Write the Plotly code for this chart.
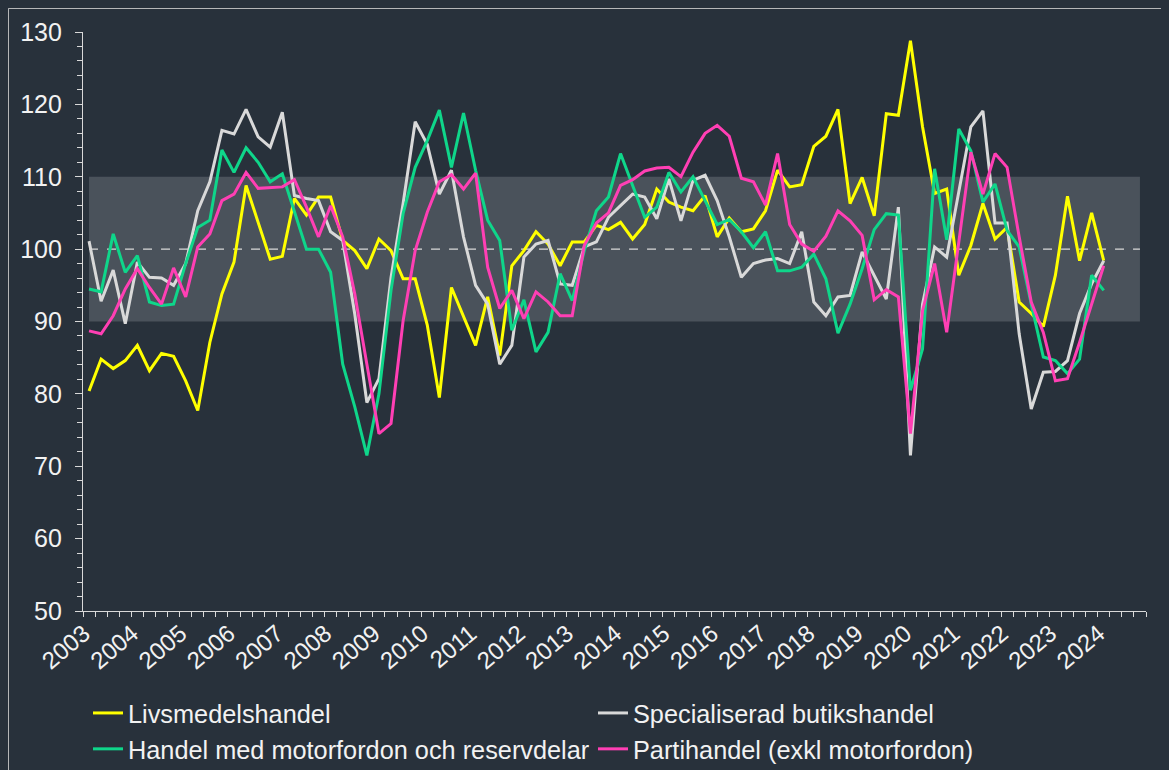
import plotly.graph_objects as go

# quarterly index values, 2003 Q1 - 2024 Q1
years = [str(y) for y in range(2003, 2025)]

livsmedel = [80.4, 84.8, 83.5, 84.6, 86.7, 83.2, 85.6, 85.2, 81.8, 77.7, 87.1, 93.8,
             98.2, 108.8, 103.7, 98.6, 99.0, 107.0, 104.7, 107.2, 107.2, 101.2, 99.8, 97.3,
             101.4, 99.8, 95.9, 95.9, 89.5, 79.5, 94.7, 90.8, 86.7, 93.4, 85.3, 97.7,
             99.8, 102.4, 100.7, 97.7, 101.0, 101.0, 103.3, 102.7, 103.7, 101.4, 103.4, 108.3,
             106.5, 105.8, 105.3, 107.4, 101.7, 104.3, 102.4, 102.8, 105.3, 110.9, 108.6, 108.9,
             114.2, 115.6, 119.3, 106.3, 109.9, 104.6, 118.7, 118.5, 128.8, 116.9, 107.7, 108.3,
             96.4, 100.5, 106.3, 101.4, 103.0, 92.7, 91.1, 89.3, 96.4, 107.3, 98.4, 105.0, 98.4]

special = [101.1, 92.8, 97.1, 89.7, 98.2, 96.1, 96.0, 95.0, 98.0, 105.3, 109.3, 116.4,
           115.9, 119.3, 115.5, 114.1, 118.9, 107.4, 107.0, 106.7, 102.4, 101.2, 91.0, 78.8,
           82.1, 96.1, 106.3, 117.6, 114.5, 107.6, 110.9, 101.7, 95.0, 92.4, 84.1, 86.7,
           98.9, 100.7, 101.2, 95.2, 95.0, 100.3, 101.0, 104.4, 106.0, 107.6, 107.2, 104.2,
           109.7, 103.9, 109.5, 110.2, 106.7, 101.7, 96.1, 98.0, 98.5, 98.7, 98.0, 102.4,
           92.7, 90.8, 93.4, 93.6, 99.6, 96.4, 93.1, 105.8, 71.5, 92.4, 100.3, 98.9,
           108.1, 116.9, 119.1, 103.6, 103.6, 88.3, 77.9, 83.0, 83.1, 84.6, 91.1, 95.2, 98.4]

motor = [94.5, 94.1, 102.1, 96.8, 99.1, 92.7, 92.2, 92.4, 98.0, 103.0, 104.0, 113.7,
         110.6, 114.0, 112.0, 109.3, 110.4, 105.1, 100.0, 100.0, 96.8, 84.1, 78.2, 71.5,
         80.0, 94.3, 104.9, 111.3, 115.0, 119.2, 111.3, 118.8, 110.9, 104.0, 101.2, 88.8,
         93.0, 85.8, 88.5, 96.6, 92.9, 99.8, 105.3, 107.2, 113.2, 108.8, 104.4, 105.8,
         110.6, 107.9, 110.0, 106.7, 103.4, 104.1, 102.4, 100.2, 102.4, 97.0, 97.0, 97.5,
         99.3, 95.9, 88.4, 92.4, 97.3, 102.7, 104.9, 104.7, 80.5, 86.2, 111.1, 101.3,
         116.6, 113.6, 106.5, 109.0, 102.6, 100.3, 92.4, 85.1, 84.6, 82.8, 84.8, 96.4, 94.3]

parti = [88.7, 88.3, 90.8, 94.5, 97.3, 94.7, 92.4, 97.4, 93.4, 100.3, 102.1, 106.7,
         107.6, 110.6, 108.4, 108.5, 108.6, 109.6, 105.8, 101.7, 106.0, 101.7, 93.8, 84.1,
         74.5, 75.9, 90.1, 99.8, 105.1, 109.3, 110.3, 108.3, 110.5, 97.5, 91.8, 94.3,
         90.4, 94.1, 92.7, 90.8, 90.8, 100.5, 103.6, 105.0, 108.8, 109.6, 110.8, 111.2,
         111.3, 110.0, 113.4, 116.0, 117.1, 115.6, 109.8, 109.3, 106.1, 113.2, 103.4, 100.7,
         99.7, 101.8, 105.3, 103.9, 101.9, 93.0, 94.4, 93.4, 74.5, 91.5, 98.0, 88.5,
         101.3, 113.4, 107.6, 113.2, 111.3, 101.7, 92.7, 88.5, 81.8, 82.1, 87.1, 92.4, 97.7]

names = ["Livsmedelshandel", "Specialiserad butikshandel",
         "Handel med motorfordon och reservdelar", "Partihandel (exkl motorfordon)"]
colors = ["#ffff00", "#d9d9d9", "#0fd68a", "#ff3fb4"]

bg = "#28313b"
W, H = 1169, 770
ml, mr, mt, mb = 75, 31, 24, 167
pw, ph = W - ml - mr, H - mt - mb

fig = go.Figure()

quarters = list(range(len(livsmedel)))
for series, name, col in zip([livsmedel, special, motor, parti], names, colors):
    fig.add_trace(go.Scatter(x=quarters, y=series, name=name, mode="lines",
                             line=dict(color=col, width=3)))

# normal range band and 100 line
fig.add_shape(type="rect", x0=0, x1=87, y0=90, y1=110, fillcolor="#4a525b",
              line_width=0, layer="below")
fig.add_shape(type="line", x0=0, x1=87, y0=100, y1=100,
              line=dict(color="#d9d9d9", width=1.3, dash="dash"), layer="below")

# thin frame round the chart area
fig.add_shape(type="rect", xref="paper", yref="paper",
              x0=-ml / pw + 0.4 / pw, x1=1 + (mr - 0.4) / pw,
              y0=-mb / ph + 0.4 / ph, y1=1 + (mt - 0.4) / ph,
              line=dict(color="#c8c8c8", width=1), layer="below")

fig.update_layout(
    width=W, height=H,
    paper_bgcolor=bg, plot_bgcolor=bg,
    margin=dict(l=ml, r=mr, t=mt, b=mb),
    font=dict(family="Liberation Sans, Arial", size=25, color="#f2f2f2"),
    showlegend=True,
    legend=dict(orientation="h", xref="container", yref="container",
                x=80 / W, xanchor="left", y=1 - 682 / H, yanchor="top",
                entrywidth=460, entrywidthmode="pixels", font=dict(size=25.3),
                bgcolor="rgba(0,0,0,0)", tracegroupgap=0),
)
fig.update_xaxes(
    range=[-0.5, 87.5], tickmode="array", automargin=False,
    tickvals=[4 * k for k in range(len(years))], ticktext=years,
    tickangle=-40, ticks="", showgrid=False, zeroline=False,
    showline=True, linecolor="#d9d9d9", linewidth=1.3,
    tickfont=dict(size=24), ticklabelshift=-5, ticklabelstandoff=-2,
    minor=dict(tickmode="array", tickvals=[k - 0.5 for k in range(89)],
               ticks="outside", ticklen=5, tickcolor="#d9d9d9", showgrid=False),
)
fig.update_yaxes(
    range=[50, 130], dtick=10, ticks="outside", ticklen=7, tickcolor="#d9d9d9",
    showgrid=False, zeroline=False, showline=True, linecolor="#d9d9d9", linewidth=1.3,
    ticklabelstandoff=8, automargin=False,
    minor=dict(dtick=2, ticks="outside", ticklen=5, tickcolor="#d9d9d9", showgrid=False),
)

fig.write_html("out.html", post_script="document.body.style.background='%s';" % bg)
